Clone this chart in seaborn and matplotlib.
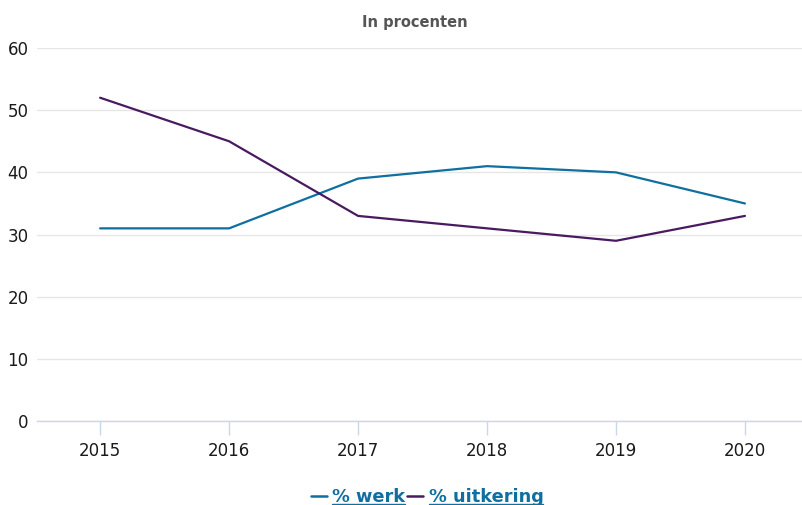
import matplotlib
matplotlib.use("Agg")
import matplotlib.pyplot as plt
import pandas as pd
import seaborn as sns

years = [2015, 2016, 2017, 2018, 2019, 2020]
werk = [31, 31, 39, 41, 40, 35]
uitkering = [52, 45, 33, 31, 29, 33]
series_names = ["% werk", "% uitkering"]
colors = ["#0f6fa0", "#4a1a60"]

df = pd.DataFrame({
    "jaar": years * 2,
    "waarde": werk + uitkering,
    "reeks": [series_names[0]] * len(years) + [series_names[1]] * len(years),
})

sns.set_style("white")
plt.rcParams["font.family"] = ["DejaVu Sans"]

fig = plt.figure(figsize=(8.03, 5.05), dpi=100)
ax = fig.add_axes([0.046, 0.166, 0.954, 0.739])

sns.lineplot(data=df, x="jaar", y="waarde", hue="reeks", palette=colors,
             linewidth=1.6, ax=ax, legend=False)

ax.set_xlim(2014.51, 2020.45)
ax.set_ylim(0, 60)
ax.set_xticks(years)
ax.set_xticklabels([str(y) for y in years])
ax.set_yticks(range(0, 61, 10))
ax.set_xlabel("")
ax.set_ylabel("")

ax.grid(axis="y", color="#e6e6e6", linewidth=1)
ax.set_axisbelow(True)
for side in ["top", "right", "left"]:
    ax.spines[side].set_visible(False)
ax.spines["bottom"].set_color("#ccd6eb")
ax.spines["bottom"].set_linewidth(1)

ax.tick_params(axis="x", bottom=True, length=10, width=1, color="#ccd6eb", pad=5,
               labelsize=12, labelcolor="#1a1a1a", direction="out")
ax.tick_params(axis="y", length=0, pad=6, labelsize=12, labelcolor="#1a1a1a")

fig.text(0.517, 0.955, "In procenten", ha="center", va="center",
         fontsize=10.5, fontweight="bold", color="#555555")

handles = [plt.Line2D([], [], color=c, linewidth=1.8) for c in colors]
leg = fig.legend(handles, series_names, loc="center", bbox_to_anchor=(0.532, 0.016),
                 ncol=2, frameon=False, prop={"size": 12.8, "weight": "bold"},
                 handlelength=0.9, handletextpad=0.3, columnspacing=0.1,
                 borderaxespad=0)
for t in leg.get_texts():
    t.set_color("#0f6fa0")

# underline the legend labels
fig.canvas.draw()
renderer = fig.canvas.get_renderer()
inv = fig.transFigure.inverted()
for t in leg.get_texts():
    bb = t.get_window_extent(renderer)
    (x0, y0), (x1, _) = inv.transform([(bb.x0, bb.y0 + 1.5), (bb.x1, bb.y0)])
    fig.add_artist(plt.Line2D([x0, x1], [y0, y0], transform=fig.transFigure,
                              color="#0f6fa0", linewidth=1))

fig.savefig("out.png", dpi=100)
